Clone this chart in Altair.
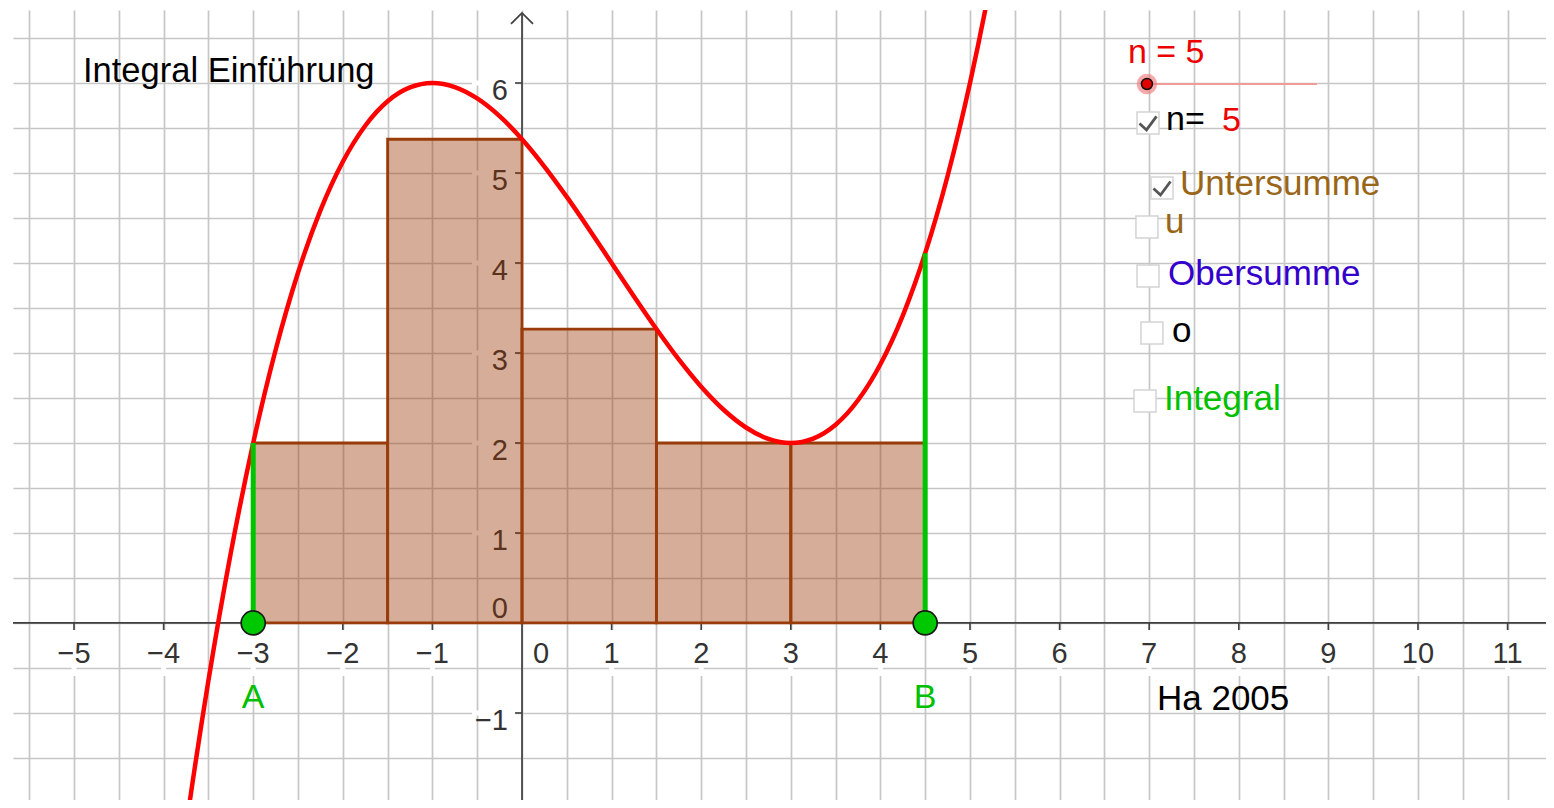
import altair as alt
import pandas as pd

# ---------------- data ----------------
# lower-sum rectangles (Untersumme, n = 5)
rect_left = [-3.0, -1.5, 0.0, 1.5, 3.0]
rect_right = [-1.5, 0.0, 1.5, 3.0, 4.5]
rect_height = [2.0, 5.375, 3.266, 2.0, 2.0]

# red curve
curve_x = [-4.0, -3.75, -3.5, -3.25, -3.0, -2.75, -2.5, -2.25, -2.0, -1.75, -1.5, -1.25,
           -1.0, -0.75, -0.5, -0.25, 0.0, 0.25, 0.5, 0.75, 1.0, 1.25, 1.5, 1.75, 2.0,
           2.25, 2.5, 2.75, 3.0, 3.25, 3.5, 3.75, 4.0, 4.25, 4.5, 4.75, 5.0, 5.25, 5.5]
curve_y = [-4.125, -2.272, -0.641, 0.779, 2.0, 3.033, 3.891, 4.584, 5.125, 5.525, 5.797, 5.951,
           6.0, 5.955, 5.828, 5.631, 5.375, 5.072, 4.734, 4.373, 4.0, 3.627, 3.266, 2.928, 2.625,
           2.369, 2.172, 2.045, 2.0, 2.049, 2.203, 2.475, 2.875, 3.416, 4.109, 4.967, 6.0, 7.221, 8.641]

# interval end points A, B and the green segments up to the curve
point_names = ["A", "B"]
point_x = [-3.0, 4.5]
point_f = [2.0, 4.109]

# axis tick labels
x_tick_values = [-5, -4, -3, -2, -1, 1, 2, 3, 4, 5, 6, 7, 8, 9, 10, 11]
x_tick_labels = ["−5", "−4", "−3", "−2", "−1", "1", "2", "3", "4", "5", "6", "7", "8", "9", "10", "11"]
y_tick_values = [-1, 1, 2, 3, 4, 5, 6]
y_tick_labels = ["−1", "1", "2", "3", "4", "5", "6"]
zero_label = ["0"]

# texts of the worksheet
note_text = ["Integral Einführung", "n = 5", "n=", "5", "Untersumme", "u", "Obersumme", "o",
             "Integral", "Ha 2005"]
note_x = [-4.900, 6.763, 7.188, 7.813, 7.344, 7.176, 7.210, 7.254, 7.165, 7.087]
note_y = [6.011, 6.222, 5.478, 5.467, 4.756, 4.333, 3.756, 3.122, 2.367, -0.967]
note_color = ["#000000", "#ee0000", "#000000", "#ee0000", "#996619", "#996619", "#3300cc",
              "#000000", "#00c000", "#000000"]
note_size = [34.5, 34, 34, 34, 35, 35, 35, 35, 35, 35]

# check boxes
box_x = [6.987, 7.143, 6.975, 6.987, 7.031, 6.953]
box_y = [5.556, 4.833, 4.400, 3.856, 3.222, 2.467]
box_checked = [True, True, False, False, False, False]

# slider n
slider_x = [6.975, 8.873]
slider_y = [5.989, 5.989]
slider_value_x = [6.975]

axis_top = [6.778]

# ---------------- scales ----------------
W, H = 1533, 790
xs = alt.Scale(domain=[-5.681, 11.429], nice=False, zero=False)
ys = alt.Scale(domain=[-1.967, 6.811], nice=False, zero=False)
grid_x = [v / 2 for v in range(-11, 24)]
grid_y = [v / 2 for v in range(-4, 14)]
GRID = "#c6c6c6"
xaxis = alt.Axis(values=grid_x, grid=True, labels=False, ticks=False, domain=False, title=None,
                 gridColor=GRID, gridWidth=1.7)
yaxis = alt.Axis(values=grid_y, grid=True, labels=False, ticks=False, domain=False, title=None,
                 gridColor=GRID, gridWidth=1.7)


def X(f):
    return alt.X(f, type="quantitative", scale=xs, axis=xaxis)


def Y(f):
    return alt.Y(f, type="quantitative", scale=ys, axis=yaxis)


FONT = "Liberation Sans"
AX = "#404040"
LBL = "#333333"
TSZ = 29

rects = pd.DataFrame({"x": rect_left, "x2": rect_right, "h": rect_height, "y0": 0.0})
curve = pd.DataFrame({"x": curve_x, "y": curve_y})
pts = pd.DataFrame({"name": point_names, "x": point_x, "f": point_f, "y": 0.0})
xt = pd.DataFrame({"x": x_tick_values, "label": x_tick_labels, "y": 0.0})
yt = pd.DataFrame({"y": y_tick_values, "label": y_tick_labels, "x": 0.0})
zero = pd.DataFrame({"label": zero_label, "x": 0.0, "y": 0.0})
notes = pd.DataFrame({"text": note_text, "x": note_x, "y": note_y, "color": note_color,
                      "size": note_size})
boxes = pd.DataFrame({"x": box_x, "y": box_y, "checked": box_checked})
checks = boxes[boxes["checked"]]
slider = pd.DataFrame({"x": slider_x, "y": slider_y})
knob = pd.DataFrame({"x": slider_value_x, "y": slider_y[:1]})
vaxis = pd.DataFrame({"x": [0.0], "top": axis_top})
haxis = pd.DataFrame({"y": [0.0]})

# white gaps in the grid behind the tick labels
mask_x = alt.Chart(xt).mark_tick(orient="vertical", color="white", size=46, thickness=5,
                                 yOffset=30, opacity=1).encode(x=X("x"), y=Y("y"))
mask_y = alt.Chart(yt).mark_tick(orient="horizontal", color="white", size=44, thickness=5,
                                 xOffset=-28, opacity=1).encode(x=X("x"), y=Y("y"))

# axes
h_line = alt.Chart(haxis).mark_rule(color=AX, strokeWidth=1.7).encode(y=Y("y"))
v_line = alt.Chart(vaxis).mark_rule(color=AX, strokeWidth=1.7).encode(
    x=X("x"), y=Y("top"), y2=alt.value(H))
arrow = alt.Chart(vaxis).mark_point(shape="M-1,1L0,0L1,1", size=484, filled=False, color=AX,
                                    strokeWidth=1.7, opacity=1).encode(x=X("x"), y=Y("top"))
tick_x = alt.Chart(xt).mark_tick(orient="vertical", color=AX, size=7, thickness=1.6,
                                 yOffset=3.5, opacity=1).encode(x=X("x"), y=Y("y"))
tick_y = alt.Chart(yt).mark_tick(orient="horizontal", color=AX, size=7, thickness=1.6,
                                 xOffset=-3.5, opacity=1).encode(x=X("x"), y=Y("y"))
lab_x = alt.Chart(xt).mark_text(align="center", baseline="alphabetic", dy=40, fontSize=TSZ,
                                font=FONT, color=LBL).encode(x=X("x"), y=Y("y"), text="label:N")
lab_y = alt.Chart(yt).mark_text(align="right", baseline="alphabetic", dx=-14, dy=17, fontSize=TSZ,
                                font=FONT, color=LBL).encode(x=X("x"), y=Y("y"), text="label:N")
lab_0x = alt.Chart(zero).mark_text(align="center", baseline="alphabetic", dx=19, dy=40,
                                   fontSize=TSZ, font=FONT, color=LBL).encode(
    x=X("x"), y=Y("y"), text="label:N")
lab_0y = alt.Chart(zero).mark_text(align="right", baseline="alphabetic", dx=-14, dy=-5,
                                   fontSize=TSZ, font=FONT, color=LBL).encode(
    x=X("x"), y=Y("y"), text="label:N")

# lower sum rectangles
bars = alt.Chart(rects).mark_rect(fill="#993300", fillOpacity=0.4, stroke="#9a3c0a",
                                  strokeWidth=2.8).encode(
    x=X("x"), x2="x2", y=Y("y0"), y2="h")

# curve
line = alt.Chart(curve).mark_line(color="#ff0000", strokeWidth=4.5, interpolate="monotone",
                                  clip=True).encode(x=X("x"), y=Y("y"), order="x:Q")

# green segments, points and labels
seg = alt.Chart(pts).mark_rule(color="#00c400", strokeWidth=5).encode(x=X("x"), y=Y("y"), y2="f")
dots = alt.Chart(pts).mark_circle(size=576, color="#00c800", stroke="#1a1a1a", strokeWidth=1.7,
                                  opacity=1).encode(x=X("x"), y=Y("y"))
dot_lab = alt.Chart(pts).mark_text(align="center", baseline="alphabetic", dy=85, fontSize=34,
                                   font=FONT, color="#00c000").encode(
    x=X("x"), y=Y("y"), text="name:N")

# widgets
sl_line = alt.Chart(slider).mark_line(color="#f29a9a", strokeWidth=2.2).encode(x=X("x"), y=Y("y"))
sl_halo = alt.Chart(knob).mark_circle(size=420, color="#f07b7b", opacity=0.65).encode(
    x=X("x"), y=Y("y"))
sl_dot = alt.Chart(knob).mark_circle(size=121, color="#e00000", stroke="#111111",
                                     strokeWidth=1.5, opacity=1).encode(x=X("x"), y=Y("y"))
box = alt.Chart(boxes).mark_point(shape="square", size=484, filled=True, fill="white",
                                  stroke="#d4d4d4", strokeWidth=1.5, opacity=1).encode(
    x=X("x"), y=Y("y"))
tick_mark = alt.Chart(checks).mark_point(shape="M-0.85,0.05L-0.15,0.7L0.85,-0.65", size=400,
                                         filled=False, color="#555555", strokeWidth=2.8,
                                         opacity=1).encode(x=X("x"), y=Y("y"))
texts = alt.Chart(notes).mark_text(align="left", baseline="alphabetic", font=FONT).encode(
    x=X("x"), y=Y("y"), text="text:N",
    color=alt.Color("color:N", scale=None),
    size=alt.Size("size:Q", scale=None))

chart = alt.layer(
    mask_x, mask_y, h_line, v_line, arrow, tick_x, tick_y, lab_x, lab_y, lab_0x, lab_0y,
    bars, line, seg, dots, dot_lab, sl_line, sl_halo, sl_dot, box, tick_mark, texts
).properties(
    width=W, height=H,
    autosize=alt.AutoSizeParams(type="none"),
    padding={"left": 5, "top": 2, "right": 0, "bottom": 0},
    background="white",
).configure_view(strokeWidth=0)

chart.save("out.html", embed_options={"renderer": "svg", "actions": False})
